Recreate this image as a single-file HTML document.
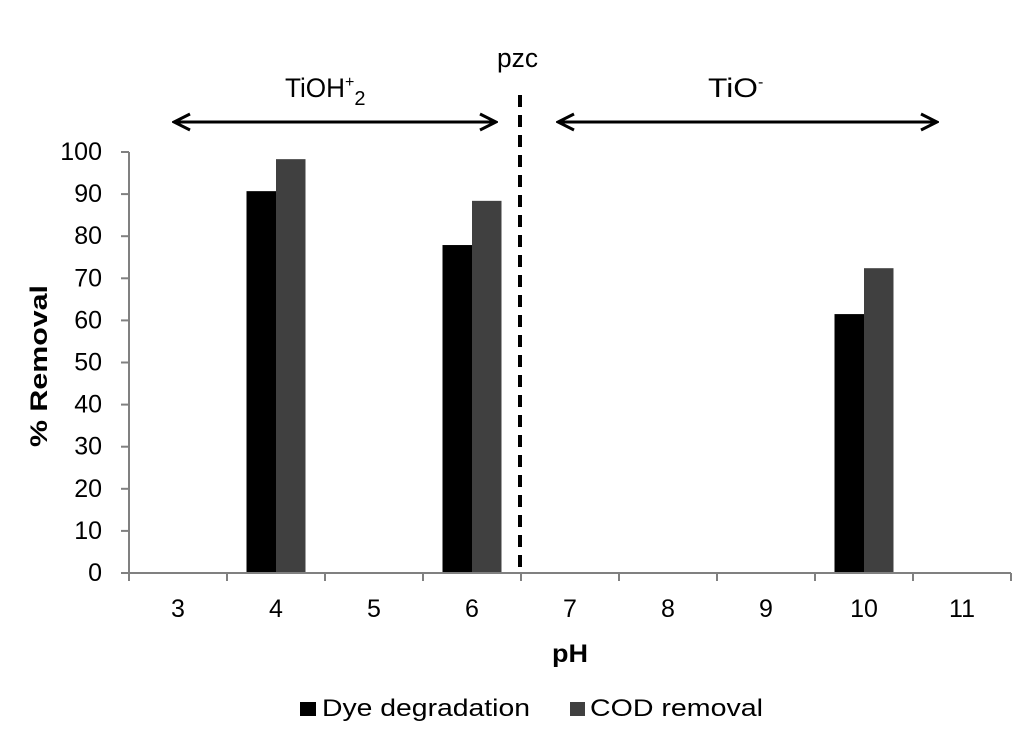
<!DOCTYPE html>
<html><head><meta charset="utf-8"><style>
body{margin:0;background:#fff;}
svg{display:block;font-family:"Liberation Sans",Arial,sans-serif;}
</style></head><body>
<svg id="chart" width="1024" height="739" viewBox="0 0 1024 739" xmlns="http://www.w3.org/2000/svg">
<defs>
<marker id="ah" viewBox="0 0 20 20" refX="18" refY="10" markerWidth="20" markerHeight="20" markerUnits="userSpaceOnUse" orient="auto-start-reverse">
<path d="M2,2 L18,10 L2,18" fill="none" stroke="#000" stroke-width="3"/>
</marker>
</defs>
<g id="grid"></g>
<text x="47" y="366" transform="rotate(-90 47 366)" text-anchor="middle" font-size="24" font-weight="bold" textLength="162" lengthAdjust="spacingAndGlyphs">% Removal</text>
<text x="570" y="662" text-anchor="middle" font-size="25" font-weight="bold" textLength="36" lengthAdjust="spacingAndGlyphs">pH</text>
<line x1="520" y1="95" x2="520" y2="573" stroke="#000" stroke-width="4" stroke-dasharray="12,8"/>
<text x="497" y="67" font-size="27" textLength="41" lengthAdjust="spacingAndGlyphs">pzc</text>
<line x1="174" y1="122" x2="496" y2="122" stroke="#000" stroke-width="3" marker-start="url(#ah)" marker-end="url(#ah)"/>
<line x1="558" y1="122" x2="937" y2="122" stroke="#000" stroke-width="3" marker-start="url(#ah)" marker-end="url(#ah)"/>
<text x="285" y="97" font-size="27"><tspan textLength="60" lengthAdjust="spacingAndGlyphs">TiOH</tspan><tspan dy="-10" font-size="16">+</tspan><tspan dy="18" font-size="20">2</tspan></text>
<text x="708" y="97" font-size="27"><tspan textLength="50" lengthAdjust="spacingAndGlyphs">TiO</tspan><tspan dy="-10" font-size="16">-</tspan></text>
<g>
<rect x="300" y="702" width="16" height="14" fill="#000"/>
<text x="322" y="716" font-size="24" textLength="208" lengthAdjust="spacingAndGlyphs">Dye degradation</text>
<rect x="570" y="702" width="15" height="14" fill="#404040"/>
<text x="590" y="716" font-size="24" textLength="173" lengthAdjust="spacingAndGlyphs">COD removal</text>
</g>
</svg>
<script>
const categories=["3","4","5","6","7","8","9","10","11"];
const dyeValues=[null,90.7,null,77.9,null,null,null,61.5,null];
const codValues=[null,98.3,null,88.4,null,null,null,72.4,null];
const yTicks=[0,10,20,30,40,50,60,70,80,90,100];
const NS="http://www.w3.org/2000/svg";
const g=document.getElementById('grid');
const x0=129,x1=1011,y0=573,yTop=152,yMax=100;
const band=(x1-x0)/categories.length;
const yS=v=>y0-(v/yMax)*(y0-yTop);
const xC=i=>x0+band*(i+0.5);
function mk(t,a){const e=document.createElementNS(NS,t);for(const k in a)e.setAttribute(k,a[k]);g.appendChild(e);return e;}
const bw=29.5;
categories.forEach((c,i)=>{
 if(dyeValues[i]!=null){const r=mk('rect',{x:xC(i)-bw,y:yS(dyeValues[i]),width:bw,height:y0-yS(dyeValues[i]),fill:'#000'});
 
 }
 if(codValues[i]!=null){const r=mk('rect',{x:xC(i),y:yS(codValues[i]),width:bw,height:y0-yS(codValues[i]),fill:'#404040'});
 
 }
});
const ya=mk('line',{x1:x0,y1:yTop,x2:x0,y2:y0,stroke:'#808080','stroke-width':2});


const xa=mk('line',{x1:x0-8,y1:y0,x2:x1,y2:y0,stroke:'#808080','stroke-width':2});


yTicks.forEach(v=>{
 const t=mk('line',{x1:x0-8,y1:yS(v),x2:x0,y2:yS(v),stroke:'#808080','stroke-width':2});
 
 
 const l=mk('text',{x:102,y:yS(v)+8,'text-anchor':'end','font-size':25});
 l.textContent=v;
 
 
});
for(let i=0;i<=categories.length;i++){
 const t=mk('line',{x1:x0+band*i,y1:y0,x2:x0+band*i,y2:y0+8,stroke:'#808080','stroke-width':2});
 
 
}
categories.forEach((c,i)=>{
 const l=mk('text',{x:xC(i),y:617,'text-anchor':'middle','font-size':25});
 l.textContent=c;
 
 
});
</script>
</body></html>
